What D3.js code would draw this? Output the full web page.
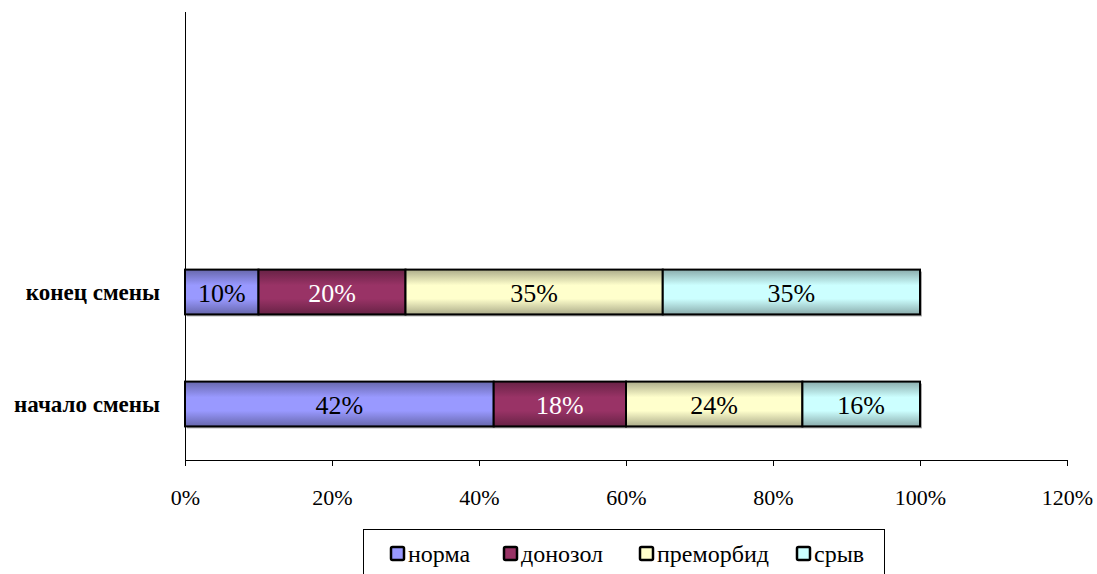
<!DOCTYPE html>
<html>
<head>
<meta charset="utf-8">
<script src="https://cdn.jsdelivr.net/npm/d3@7"></script>
<style>
  body { margin: 0; background: #fff; }
  svg text { font-family: "Liberation Serif", "Times New Roman", "DejaVu Serif", serif; }
</style>
</head>
<body>
<div id="chart"></div>
<script>
var categories = ["начало смены", "конец смены"];
var seriesNames = ["норма", "донозол", "преморбид", "срыв"];
var norma = [42, 10];
var donozol = [18, 20];
var premorbid = [24, 35];
var sryv = [16, 35];
var tickValues = [0, 20, 40, 60, 80, 100, 120];

var colors = ["#9999FF", "#993366", "#FFFFCC", "#CCFFFF"];
var labelColors = ["#000", "#fff", "#000", "#000"];

var svgWidth = 1097;
var svgHeight = 574;

var svg = d3.select("#chart")
  .append("svg")
  .attr("width", svgWidth)
  .attr("height", svgHeight);

var defs = svg.append("defs");
colors.forEach(function(c, i) {
  var g = defs.append("linearGradient")
    .attr("id", "grad" + i)
    .attr("x1", 0).attr("y1", 0).attr("x2", 0).attr("y2", 1);
  var dark = d3.color(c).darker(1.1);
  g.append("stop").attr("offset", "0%").attr("stop-color", dark);
  g.append("stop").attr("offset", "35%").attr("stop-color", c);
  g.append("stop").attr("offset", "65%").attr("stop-color", c);
  g.append("stop").attr("offset", "100%").attr("stop-color", dark);
});

var x = d3.scaleLinear().domain([0, 120]).range([185, 1067]);
// 4 slots on the category axis, top two are empty
var y = d3.scaleBand().domain([0, 1, 2, 3]).range([460, 12]).paddingInner(0.6).paddingOuter(0.3);

var rows = categories.map(function(cat, i) {
  var vals = [norma[i], donozol[i], premorbid[i], sryv[i]];
  var acc = 0;
  return vals.map(function(v, s) {
    var seg = { cat: i, s: s, v: v, x0: acc, x1: acc + v };
    acc += v;
    return seg;
  });
});
var segs = d3.merge(rows);

// axes
var bottomAxis = d3.axisBottom(x)
  .tickValues(tickValues)
  .tickSize(6)
  .tickFormat(function(d) { return d + "%"; });

var xg = svg.append("g")
  .attr("transform", "translate(0,460)")
  .call(bottomAxis);
xg.attr("font-family", null);
xg.select(".domain").attr("stroke", "#000").attr("d", "M185,0.5H1067");
xg.selectAll(".tick line").attr("stroke", "#000");
xg.selectAll(".tick text")
  .attr("y", 45)
  .attr("dy", null)
  .attr("font-size", 22)
  .attr("fill", "#000");

svg.append("line")
  .attr("x1", 185.5).attr("x2", 185.5)
  .attr("y1", 12).attr("y2", 460)
  .attr("stroke", "#000");

// category labels
svg.selectAll(".cat")
  .data(categories)
  .enter()
  .append("text")
  .attr("x", 160)
  .attr("y", function(d, i) { return y(i) + y.bandwidth() / 2 + 8; })
  .attr("text-anchor", "end")
  .attr("font-size", 23)
  .attr("font-weight", "bold")
  .text(function(d) { return d; });

// shadow
svg.selectAll(".shadow")
  .data(categories)
  .enter()
  .append("rect")
  .attr("x", x(0) + 2)
  .attr("y", function(d, i) { return y(i) + 2; })
  .attr("width", x(100) - x(0))
  .attr("height", y.bandwidth())
  .attr("fill", "#aaa");

svg.selectAll(".seg")
  .data(segs)
  .enter()
  .append("rect")
  .attr("x", function(d) { return x(d.x0); })
  .attr("y", function(d) { return y(d.cat); })
  .attr("width", function(d) { return x(d.x1) - x(d.x0); })
  .attr("height", y.bandwidth())
  .attr("fill", function(d) { return "url(#grad" + d.s + ")"; })
  .attr("stroke", "#000")
  .attr("stroke-width", 2);

svg.selectAll(".lbl")
  .data(segs)
  .enter()
  .append("text")
  .attr("x", function(d) { return x((d.x0 + d.x1) / 2); })
  .attr("y", function(d) { return y(d.cat) + y.bandwidth() / 2 + 10; })
  .attr("text-anchor", "middle")
  .attr("font-size", 26)
  .attr("fill", function(d) { return labelColors[d.s]; })
  .text(function(d) { return d.v + "%"; });

// legend
svg.append("rect")
  .attr("x", 363.5).attr("y", 529.5)
  .attr("width", 521).attr("height", 60)
  .attr("fill", "#fff")
  .attr("stroke", "#000");

var legendX = [391, 504, 640, 797];
var legend = svg.selectAll(".leg")
  .data(seriesNames)
  .enter()
  .append("g")
  .attr("transform", function(d, i) { return "translate(" + legendX[i] + ",554)"; });

legend.append("rect")
  .attr("x", 0).attr("y", -7)
  .attr("width", 13).attr("height", 13)
  .attr("rx", 1.5)
  .attr("fill", function(d, i) { return colors[i]; })
  .attr("stroke", "#000")
  .attr("stroke-width", 2.5);

legend.append("text")
  .attr("x", 17)
  .attr("y", 8)
  .attr("font-size", 24)
  .text(function(d) { return d; });
</script>
</body>
</html>
